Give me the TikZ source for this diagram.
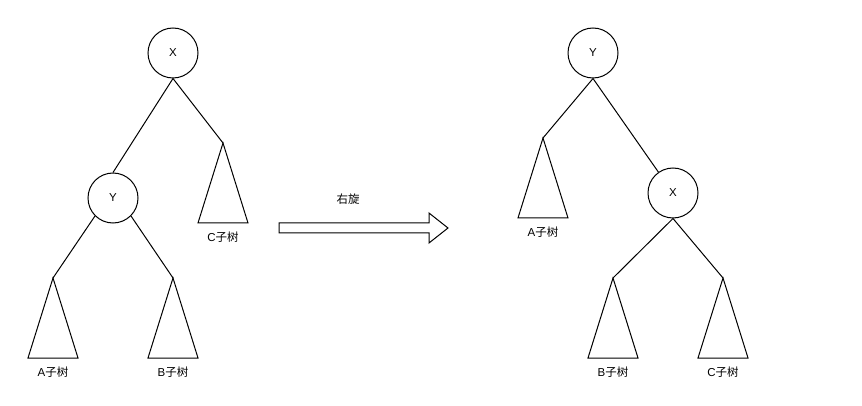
\documentclass[tikz,border=0pt]{standalone}
\usepackage{fontspec}
\setmainfont{Liberation Sans}
\newfontfamily\cjk{Noto Sans CJK SC}
\tikzset{knot/.style={draw,circle,minimum size=50pt,inner sep=0pt,font=\fontsize{11.5}{13}\selectfont},
         lbl/.style={inner sep=0pt,font=\fontsize{11.5}{13}\selectfont}}
\begin{document}
\begin{tikzpicture}[x=1pt,y=-1pt,line width=1pt]
                    \useasboundingbox (0,0) rectangle (862,406);
                    % before
                    \node[knot] (x1) at (173,53) {X};
                    \node[knot] (y1) at (113,198) {Y};
                    \coordinate (a1) at (53,278);
                    \coordinate (b1) at (173,278);
                    \coordinate (c1) at (223,143);
                    \draw (x1.south)--(y1.north);
                    \draw (x1.south)--(c1);
                    \draw (y1.south west)--(a1);
                    \draw (y1.south east)--(b1);
                    \draw (a1)--++(-25,80)--++(50,0)--cycle;
                    \draw (b1)--++(-25,80)--++(50,0)--cycle;
                    \draw (c1)--++(-25,80)--++(50,0)--cycle;
                    \node[lbl] (la1) at (53,372) {A{\cjk 子树}};
                    \node[lbl] (lb1) at (173,372) {B{\cjk 子树}};
                    \node[lbl] (lc1) at (223,237) {C{\cjk 子树}};

                    \draw (279,223)--(429,223)--(429,213)--(448,228)--(429,243)--(429,233)--(279,233)--cycle;
                    \node[lbl] (rot) at (348,199) {\cjk 右旋};

                    % after
                    \node[knot] (y2) at (593,53) {Y};
                    \node[knot] (x2) at (673,193) {X};
                    \coordinate (a2) at (543,138);
                    \coordinate (b2) at (613,278);
                    \coordinate (c2) at (723,278);
                    \draw (y2.south)--(a2);
                    \draw (y2.south)--(x2);
                    \draw (x2.south)--(b2);
                    \draw (x2.south)--(c2);
                    \draw (a2)--++(-25,80)--++(50,0)--cycle;
                    \draw (b2)--++(-25,80)--++(50,0)--cycle;
                    \draw (c2)--++(-25,80)--++(50,0)--cycle;
                    \node[lbl] (la2) at (543,232) {A{\cjk 子树}};
                    \node[lbl] (lb2) at (613,372) {B{\cjk 子树}};
                    \node[lbl] (lc2) at (723,372) {C{\cjk 子树}};
                \end{tikzpicture}
\end{document}
